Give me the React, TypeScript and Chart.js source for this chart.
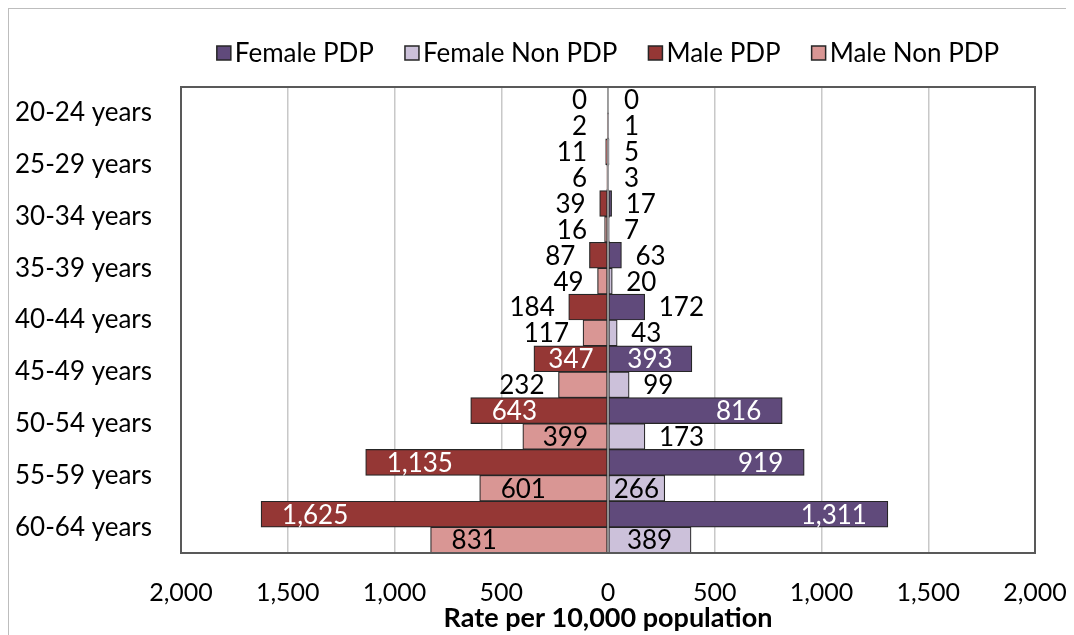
import React, { useEffect, useRef } from "react";
import { Chart, registerables } from "chart.js";

Chart.register(...registerables);

// ---- data ----
const ageGroups = [
  "20-24 years",
  "25-29 years",
  "30-34 years",
  "35-39 years",
  "40-44 years",
  "45-49 years",
  "50-54 years",
  "55-59 years",
  "60-64 years",
];
const femalePDP = [0, 5, 17, 63, 172, 393, 816, 919, 1311];
const femaleNonPDP = [1, 3, 7, 20, 43, 99, 173, 266, 389];
const malePDP = [0, 11, 39, 87, 184, 347, 643, 1135, 1625];
const maleNonPDP = [2, 6, 16, 49, 117, 232, 399, 601, 831];
const xTicks = [-2000, -1500, -1000, -500, 0, 500, 1000, 1500, 2000];
const seriesNames = ["Female PDP", "Female Non PDP", "Male PDP", "Male Non PDP"];
const axisTitle = "Rate per 10,000 population";

// ---- styles ----
const FONT = "Lato, 'Open Sans', sans-serif";
const COLORS = ["#604a7b", "#ccc1da", "#953735", "#d99694"];
const BORDER = "#262626";
const FS = 26;

const fmt = (v: number) => Math.abs(v).toLocaleString("en-US");

const overlayPlugin = {
  id: "overlay",
  afterDatasetsDraw(chart: any) {
    const { ctx, chartArea } = chart;
    const xs = chart.scales.x;
    const zeroX = xs.getPixelForValue(0);
    ctx.save();
    // zero axis line over bars
    ctx.strokeStyle = "#8c8c8c";
    ctx.lineWidth = 1.5;
    ctx.beginPath();
    ctx.moveTo(zeroX, chartArea.top);
    ctx.lineTo(zeroX, chartArea.bottom);
    ctx.stroke();

    // data labels
    ctx.font = `${FS}px ${FONT}`;
    ctx.textBaseline = "middle";
    chart.data.datasets.forEach((ds: any, di: number) => {
      const meta = chart.getDatasetMeta(di);
      const isMale = di >= 2;
      const isPDP = di === 0 || di === 2;
      meta.data.forEach((bar: any, j: number) => {
        const raw = ds.data[j] as number;
        const value = Math.abs(raw);
        const text = fmt(value);
        const { x, y } = bar.getProps(["x", "y"], true);
        const len = Math.abs(x - zeroX);
        const tw = ctx.measureText(text).width;
        if (value >= 250) {
          const pad = Math.min(21, (len - tw) / 2);
          ctx.fillStyle = isPDP ? "#ffffff" : "#000000";
          if (isMale) {
            ctx.textAlign = "left";
            ctx.fillText(text, x + pad, y + 1);
          } else {
            ctx.textAlign = "right";
            ctx.fillText(text, x - pad, y + 1);
          }
        } else {
          ctx.fillStyle = "#000000";
          if (isMale) {
            ctx.textAlign = "right";
            ctx.fillText(text, Math.min(zeroX - 21, x - 14), y + 1);
          } else {
            ctx.textAlign = "left";
            ctx.fillText(text, Math.max(zeroX + 16, x + 14), y + 1);
          }
        }
      });
    });

    // plot area border
    ctx.strokeStyle = "#595959";
    ctx.lineWidth = 2;
    ctx.strokeRect(
      chartArea.left,
      chartArea.top,
      chartArea.right - chartArea.left,
      chartArea.bottom - chartArea.top
    );
    ctx.restore();
  },
  afterDraw(chart: any) {
    // custom legend centered over plot area
    const { ctx, chartArea } = chart;
    ctx.save();
    ctx.font = `${FS}px ${FONT}`;
    ctx.textBaseline = "middle";
    ctx.textAlign = "left";
    const box = 14;
    const gapText = 4;
    const gapItem = 31;
    const widths = seriesNames.map((n) => box + gapText + ctx.measureText(n).width);
    const total = widths.reduce((a, b) => a + b, 0) + gapItem * (seriesNames.length - 1);
    let cx = (chartArea.left + chartArea.right) / 2 - total / 2;
    const cy = 44;
    seriesNames.forEach((n, i) => {
      ctx.fillStyle = COLORS[i];
      ctx.fillRect(cx, cy - box / 2, box, box);
      ctx.strokeStyle = BORDER;
      ctx.lineWidth = 1.5;
      ctx.strokeRect(cx, cy - box / 2, box, box);
      ctx.fillStyle = "#000000";
      ctx.fillText(n, cx + box + gapText, cy + 1);
      cx += widths[i] + gapItem;
    });
    ctx.restore();
  },
};

export default function App() {
  const ref = useRef<HTMLCanvasElement | null>(null);

  useEffect(() => {
    if (!ref.current) return;
    const mk = (label: string, data: number[], color: string, stack: string) => ({
      label,
      data,
      backgroundColor: color,
      borderColor: BORDER,
      borderWidth: 1.2,
      borderSkipped: false,
      stack,
      barPercentage: 1,
      categoryPercentage: 1,
    });
    const chart = new Chart(ref.current, {
      type: "bar",
      data: {
        labels: ageGroups,
        datasets: [
          mk(seriesNames[0], femalePDP, COLORS[0], "pdp"),
          mk(seriesNames[1], femaleNonPDP, COLORS[1], "non"),
          mk(seriesNames[2], malePDP.map((v) => -v), COLORS[2], "pdp"),
          mk(seriesNames[3], maleNonPDP.map((v) => -v), COLORS[3], "non"),
        ] as any,
      },
      options: {
        indexAxis: "y",
        animation: false,
        responsive: true,
        maintainAspectRatio: false,
        layout: { padding: { top: 78, right: 31, left: 0, bottom: 0 } },
        plugins: {
          legend: { display: false },
          tooltip: { enabled: false },
        },
        scales: {
          x: {
            stacked: true,
            min: -2000,
            max: 2000,
            afterBuildTicks: (s: any) => {
              s.ticks = xTicks.map((v) => ({ value: v }));
            },
            afterFit: (s: any) => {
              s.height = 82;
              s.paddingLeft = 0;
              s.paddingRight = 0;
            },
            grid: { color: "#c8c8c8", lineWidth: 1.5, drawTicks: false },
            border: { display: false },
            ticks: {
              padding: 25,
              color: "#000000",
              font: { family: FONT, size: 25 },
              maxRotation: 0,
              callback: (v: any) => fmt(Number(v)),
            },
            title: {
              display: true,
              text: axisTitle,
              color: "#000000",
              padding: { top: 0, bottom: 3 },
              font: { family: FONT, size: 27, weight: "bold", lineHeight: 1 },
            },
          },
          y: {
            stacked: true,
            afterFit: (s: any) => {
              s.width = 172;
            },
            grid: { display: false, drawTicks: false },
            border: { display: false },
            ticks: {
              padding: 29,
              color: "#000000",
              font: { family: FONT, size: FS },
            },
          },
        },
      },
      plugins: [overlayPlugin],
    });
    return () => chart.destroy();
  }, []);

  return (
    <div
      style={{
        width: 1058,
        height: 627,
        boxSizing: "border-box",
        borderLeft: "1px solid #bdbdbd",
        borderTop: "1px solid #bdbdbd",
        background: "#ffffff",
      }}
    >
      <div style={{ position: "relative", width: 1057, height: 626 }}>
        <canvas ref={ref} />
      </div>
    </div>
  );
}
